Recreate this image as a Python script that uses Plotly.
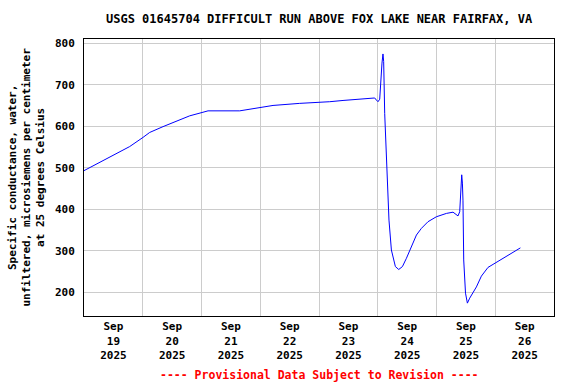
import plotly.graph_objects as go

title_text = "USGS 01645704 DIFFICULT RUN ABOVE FOX LAKE NEAR FAIRFAX, VA"
y_title = "Specific conductance, water,<br>unfiltered, microsiemens per centimeter<br>at 25 degrees Celsius"
note_text = "---- Provisional Data Subject to Revision ----"

times = [
    "2025-09-19 00:00", "2025-09-19 06:24", "2025-09-19 11:50", "2025-09-19 18:40",
    "2025-09-20 00:06", "2025-09-20 02:50", "2025-09-20 08:17", "2025-09-20 13:45",
    "2025-09-20 19:11", "2025-09-21 00:13", "2025-09-21 02:40", "2025-09-21 15:36",
    "2025-09-21 19:41", "2025-09-21 23:47", "2025-09-22 05:13", "2025-09-22 16:08",
    "2025-09-23 00:17", "2025-09-23 04:23", "2025-09-23 09:49", "2025-09-23 13:47",
    "2025-09-23 19:22", "2025-09-23 22:45", "2025-09-23 23:27", "2025-09-24 00:06",
    "2025-09-24 00:48", "2025-09-24 01:12", "2025-09-24 01:44", "2025-09-24 02:08",
    "2025-09-24 02:25", "2025-09-24 02:50", "2025-09-24 03:14", "2025-09-24 03:46",
    "2025-09-24 04:35", "2025-09-24 05:34", "2025-09-24 06:14", "2025-09-24 07:12",
    "2025-09-24 08:34", "2025-09-24 10:05", "2025-09-24 11:43", "2025-09-24 13:45",
    "2025-09-24 15:48", "2025-09-24 17:50", "2025-09-24 20:31", "2025-09-24 23:57",
    "2025-09-25 04:03", "2025-09-25 06:45", "2025-09-25 08:08", "2025-09-25 08:47",
    "2025-09-25 09:29", "2025-09-25 09:53", "2025-09-25 10:18", "2025-09-25 10:35",
    "2025-09-25 10:49", "2025-09-25 11:07", "2025-09-25 11:38", "2025-09-25 11:51",
    "2025-09-25 12:37", "2025-09-25 13:34", "2025-09-25 16:18", "2025-09-25 18:20",
    "2025-09-25 21:02", "2025-09-25 23:47", "2025-09-26 04:34", "2025-09-26 07:15",
    "2025-09-26 10:16",
]
conductance = [
    493, 513, 528, 551,
    573, 585, 599, 613,
    625, 633, 637, 637,
    641, 646, 650, 655,
    657, 659, 662, 664,
    666, 668, 663, 659,
    665, 720, 752, 774,
    756, 631, 567, 463,
    374, 302, 282, 262,
    255, 262, 282, 310,
    338, 354, 370, 382,
    390, 393, 388, 384,
    394, 439, 483, 463,
    422, 278, 238, 198,
    174, 186, 213, 239,
    260, 270, 286, 296,
    307,
]

x_range = ["2025-09-19 00:00", "2025-09-27 00:00"]
y_range = [143, 810]

font_family = "DejaVu Sans Mono"

fig = go.Figure()
fig.add_trace(go.Scatter(
    x=times, y=conductance, mode="lines",
    line=dict(color="#0000ff", width=1),
    hoverinfo="skip", showlegend=False,
))

fig.update_layout(
    width=576, height=384,
    margin=dict(l=84, r=22, t=39, b=68, autoexpand=False),
    paper_bgcolor="white", plot_bgcolor="white",
    font=dict(family=font_family, size=11, color="black", weight="bold"),
    title=dict(text=title_text, x=0.554, xanchor="center", y=0.95, yanchor="middle",
               font=dict(family=font_family, size=12, color="black", weight="bold")),
    showlegend=False,
)

fig.update_xaxes(
    type="date", range=x_range, automargin=False,
    dtick=86400000, tick0="2025-09-19 00:00",
    ticklabelmode="period", tickformat="%b<br>%d<br>%Y",
    showgrid=True, gridcolor="#cccccc", gridwidth=1,
    ticks="", showline=True, linecolor="black", linewidth=1, mirror=True,
    zeroline=False,
    tickfont=dict(family=font_family, size=11, color="black", weight="bold"),
)
fig.update_yaxes(
    range=y_range, dtick=100, tick0=0, automargin=False,
    showgrid=True, gridcolor="#cccccc", gridwidth=1,
    ticks="", ticklabelstandoff=6,
    showline=True, linecolor="black", linewidth=1, mirror=True,
    zeroline=False,
    tickfont=dict(family=font_family, size=11, color="black", weight="bold"),
)

fig.add_annotation(
    text=y_title, xref="paper", yref="paper", x=0, y=0.5, xshift=-58,
    xanchor="center", yanchor="middle", textangle=-90, showarrow=False,
    font=dict(family=font_family, size=11, color="black", weight="bold"),
)

fig.add_annotation(
    text=note_text, xref="paper", yref="paper", x=0.5, y=0, yshift=-59,
    xanchor="center", yanchor="middle", showarrow=False,
    font=dict(family=font_family, size=11.5, color="red", weight="bold"),
)

fig.write_html("out.html", config={"displayModeBar": False},
               post_script="document.body.style.margin='0';")
